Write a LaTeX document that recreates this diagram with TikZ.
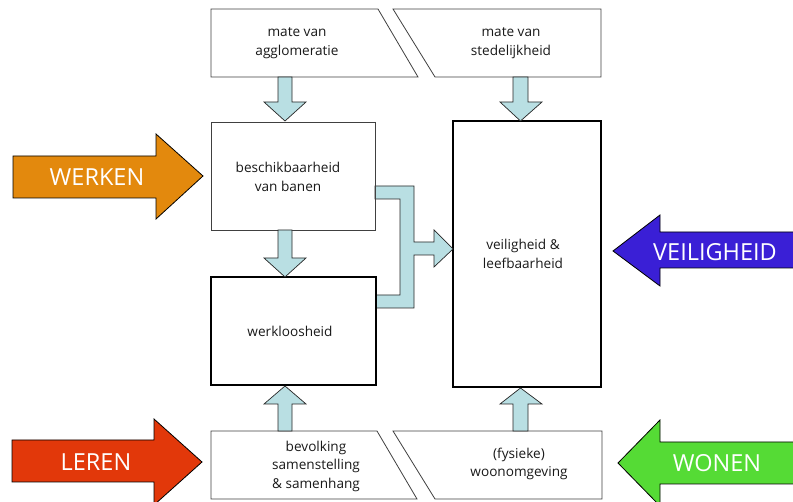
\documentclass[tikz,border=0pt]{standalone}
\usepackage{fontspec}
\setmainfont{Open Sans}
\begin{document}
\begin{tikzpicture}[x=1pt,y=-1pt,
  thinbox/.style={draw=black!75,line width=0.8pt,fill=white},
  thickbox/.style={draw=black,line width=2.4pt},
  blk/.style={draw=black!85,line width=0.7pt,fill=lightblue},
  fat/.style={draw=black,line width=0.8pt},
  lbl/.style={font=\fontsize{13.6}{18.5}\selectfont,align=center,inner sep=0pt,text=black!90},
  big/.style={font=\fontsize{23.5}{26}\selectfont,text=white,inner sep=0pt}]
\definecolor{lightblue}{HTML}{B9DFE3}
\definecolor{orangeA}{HTML}{E3890D}
\definecolor{blueA}{HTML}{3A1FD6}
\definecolor{redA}{HTML}{E2380A}
\definecolor{greenA}{HTML}{55DB35}
\useasboundingbox (0,0) rectangle (793,502);
\clip (0,0) rectangle (793,502);
% top boxes
\draw[thinbox] (211,9) -- (378,9) -- (418,77) -- (211,77) -- cycle;
\node[lbl] (aggl) at (297,43) {mate van\\agglomeratie};
\draw[thinbox] (393,9) -- (601,9) -- (601,77) -- (435,77) -- cycle;
\node[lbl] (sted) at (511,43) {mate van\\stedelijkheid};
% bottom boxes
\draw[thinbox] (211,431) -- (377,431) -- (417,499) -- (211,499) -- cycle;
\node[lbl] (bev) at (316,466) {bevolking\\samenstelling\\\& samenhang};
\draw[thinbox] (393,431) -- (602,431) -- (602,499) -- (435,499) -- cycle;
\node[lbl] (fys) at (519,464) {(fysieke)\\woonomgeving};
% middle boxes
\draw[thinbox] (211,122) rectangle (375,230);
\node[lbl] (besch) at (288,177) {beschikbaarheid\\van banen};
\draw[thickbox] (211,277) rectangle (376,385);
\node[lbl] (werk) at (290,331) {werkloosheid};
\draw[thickbox] (453,121) rectangle (601,387);
\node[lbl] (veil) at (523,254) {veiligheid \&\\leefbaarheid};
% vertical block arrows
\draw[blk] (278,77) -- (292,77) -- (292,102) -- (306,102) -- (285,121) -- (264,102) -- (278,102) -- cycle;
\draw[blk] (513,77) -- (528,77) -- (528,102) -- (542,102) -- (520.5,121) -- (500,102) -- (513,102) -- cycle;
\draw[blk] (278,230) -- (292,230) -- (292,258) -- (306,258) -- (285,277) -- (264,258) -- (278,258) -- cycle;
\draw[blk] (278,431) -- (292,431) -- (292,404) -- (306,404) -- (285,386) -- (264,404) -- (278,404) -- cycle;
\draw[blk] (513,431) -- (528,431) -- (528,404) -- (542,404) -- (520.5,388) -- (500,404) -- (513,404) -- cycle;
% merge arrow
\draw[blk] (375,186) -- (414,186) -- (414,242) -- (434,242) -- (434,230) -- (453,249) -- (434,267) -- (434,255) -- (414,255) -- (414,308) -- (376,308) -- (376,295) -- (400,295) -- (400,199) -- (375,199) -- cycle;
\draw[thinbox,fill=none] (375,122) -- (375,230);
\draw[thickbox] (376,277) -- (376,385);
% fat arrows
\draw[fat,fill=orangeA] (13,156) -- (156,156) -- (156,134) -- (203,176) -- (156,219) -- (156,198) -- (13,198) -- cycle;
\node[big] (werken) at (97,177) {WERKEN};
\draw[fat,fill=redA] (12,440) -- (154,440) -- (154,419) -- (202,462) -- (154,505) -- (154,482) -- (12,482) -- cycle;
\node[big] (leren) at (96,462) {LEREN};
\draw[fat,fill=blueA] (800,232) -- (660,232) -- (660,215) -- (613,251) -- (660,286) -- (660,268) -- (800,268) -- cycle;
\node[big] (veilig) at (715,252) {VEILIGHEID};
\draw[fat,fill=greenA] (800,442) -- (660,442) -- (660,420) -- (618,463) -- (660,506) -- (660,484) -- (800,484) -- cycle;
\node[big] (wonen) at (717,463) {WONEN};
\end{tikzpicture}
\end{document}
